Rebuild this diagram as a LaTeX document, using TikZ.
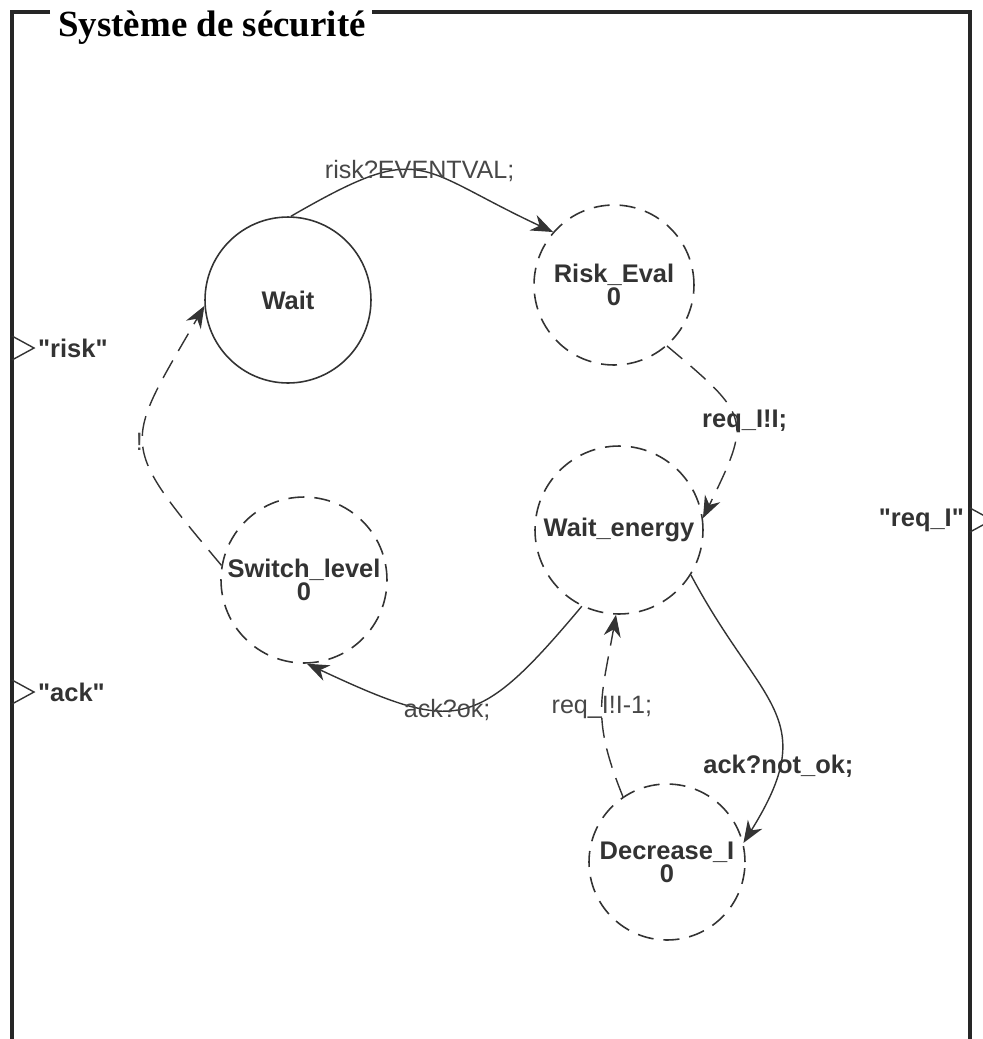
\documentclass[tikz,border=0pt]{standalone}
\usepackage{fontspec}
\setmainfont{Liberation Serif}
\setsansfont{Liberation Sans}[Ligatures=TeXOff]
\usetikzlibrary{arrows.meta}
\definecolor{ink}{HTML}{333333}

\begin{document}
\begin{tikzpicture}[x=0.02cm, y=0.02cm,
        st/.style={circle, draw=ink, line width=0.9pt, minimum size=3.32cm, inner sep=0pt,
                   align=center, font=\fontsize{14.5}{13}\selectfont\sffamily\bfseries, text=ink},
        dst/.style={st, dash pattern=on 0.32cm off 0.2cm},
        arr/.style={-{Stealth[length=0.44cm,width=0.34cm]}, line width=0.8pt, ink},
        darr/.style={arr, dash pattern=on 0.4cm off 0.22cm},
        lab/.style={font=\fontsize{14.3}{14}\selectfont\sffamily, text=ink!90, inner sep=1pt},
        blab/.style={lab, font=\fontsize{14.5}{14}\selectfont\sffamily\bfseries, text=ink},
        port/.style={draw=ink, line width=0.8pt},
        frame/.style={line width=2pt, black!85}]
      \useasboundingbox (0,0) rectangle (983,-1039);
      % frame of the block
      \draw[frame] (50,-12) -- (12,-12) -- (12,-1039);
      \draw[frame] (372,-12) -- (970,-12) -- (970,-1039);
      \node[font=\fontsize{21}{21}\selectfont\bfseries, anchor=base west, inner sep=0pt] (title) at (58,-36) {Système de sécurité};
      % ports
      \draw[port] (12,-336) -- (34,-348) -- (12,-360);
      \node[blab, anchor=west] (prisk) at (36,-348) {"risk"};
      \draw[port] (12,-680) -- (34,-692) -- (12,-704);
      \node[blab, anchor=west] (pack) at (36,-692) {"ack"};
      \draw[port] (970,-508) -- (992,-520) -- (970,-532);
      \node[blab, anchor=east] (preq) at (966,-520) {"req\_I"};
      % states
      \node[st] (wait) at (288,-300) {Wait};
      \node[dst, minimum size=3.2cm] (risk) at (614,-285) {Risk\_Eval\\0};
      \node[dst, minimum size=3.36cm] (went) at (619,-530) {Wait\_energy};
      \node[dst] (switch) at (304,-580) {Switch\_level\\0};
      \node[dst, minimum size=3.12cm] (decr) at (667,-862) {Decrease\_I\\0};
      % transitions
      \draw[arr] (wait.88) to[out=30, in=155, looseness=1.5] node[lab] {risk?EVENTVAL;} (risk.139);
      \draw[darr] (risk.-49) to[out=-40, in=64, looseness=1.6] node[blab, xshift=0.2cm] {req\_I!I;} (went.8);
      \draw[arr] (went.-32) to[out=-62, in=58, looseness=1.4] node[blab, pos=.75] {ack?not\_ok;} (decr.14);
      \draw[darr] (decr.124) to[out=112, in=-100, looseness=1.2] node[lab] {req\_I!I-1;} (went.-92);
      \draw[arr] (went.-116) to[out=-130, in=-25, looseness=1.5] node[lab, pos=.56] {ack?ok;} (switch.-88);
      \draw[darr] (switch.170) to[out=130, in=-120, looseness=1.6] node[lab, xshift=-0.08cm] {!} (wait.184);
    \end{tikzpicture}
\end{document}
